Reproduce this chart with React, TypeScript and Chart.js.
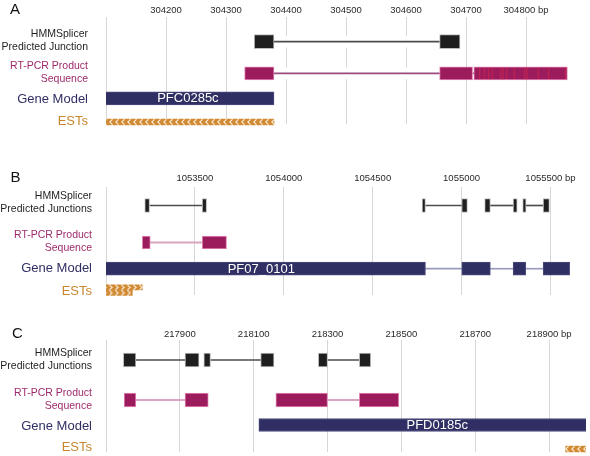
import React, { useEffect, useRef } from "react";
import { Chart, registerables } from "chart.js";

Chart.register(...registerables);

const FONT = "'Liberation Sans', Arial, Helvetica, sans-serif";

type Iv = [number, number];

// ---------------- Panel A data ----------------
const A_TICKS = [304100, 304200, 304300, 304400, 304500, 304600, 304700, 304800];
const A_RANGE: Iv = [304100, 304900];
const A_HMM_EXONS: Iv[] = [[304347, 304380], [304656, 304690]];
const A_HMM_INTRONS: Iv[] = [[304380, 304656]];
const A_RT_EXONS: Iv[] = [[304331, 304380], [304656, 304711], [304713, 304869]];
const A_RT_INTRONS: Iv[] = [[304380, 304656], [304711, 304713]];
const A_RT_MISMATCHES = [304722, 304730, 304737, 304743, 304757, 304761, 304767, 304780, 304797, 304801, 304820, 304837, 304865];
const A_GENE_EXONS: Iv[] = [[304093, 304380]];
const A_GENE_INTRONS: Iv[] = [];
const A_GENE_NAME = "PFC0285c";
const A_ESTS: Iv[] = [[304093, 304380]];

// ---------------- Panel B data ----------------
const B_TICKS = [1053000, 1053500, 1054000, 1054500, 1055000, 1055500];
const B_RANGE: Iv = [1053000, 1055700];
const B_HMM_EXONS: Iv[] = [
  [1053218, 1053245], [1053541, 1053566], [1054778, 1054797], [1055001, 1055033],
  [1055130, 1055162], [1055290, 1055313], [1055344, 1055363], [1055459, 1055494],
];
const B_HMM_INTRONS: Iv[] = [[1053245, 1053541], [1054797, 1055001], [1055162, 1055290], [1055363, 1055459]];
const B_RT_EXONS: Iv[] = [[1053204, 1053249], [1053541, 1053678]];
const B_RT_INTRONS: Iv[] = [[1053249, 1053541]];
const B_RT_MISMATCHES: number[] = [];
const B_GENE_EXONS: Iv[] = [[1052950, 1054797], [1055001, 1055162], [1055290, 1055361], [1055459, 1055608]];
const B_GENE_INTRONS: Iv[] = [[1054797, 1055001], [1055162, 1055290], [1055361, 1055459]];
const B_GENE_NAME = "PF07_0101";
const B_ESTS_1: Iv[] = [[1052990, 1053204]];
const B_ESTS_2: Iv[] = [[1052990, 1053148]];

// ---------------- Panel C data ----------------
const C_TICKS = [217700, 217900, 218100, 218300, 218500, 218700, 218900];
const C_RANGE: Iv = [217700, 219000];
const C_HMM_EXONS: Iv[] = [
  [217747, 217781], [217914, 217952], [217965, 217983], [218119, 218155], [218275, 218300], [218386, 218417],
];
const C_HMM_INTRONS: Iv[] = [[217781, 217914], [217983, 218119], [218300, 218386]];
const C_RT_EXONS: Iv[] = [[217749, 217781], [217914, 217977], [218160, 218300], [218386, 218493]];
const C_RT_INTRONS: Iv[] = [[217781, 217914], [218300, 218386]];
const C_RT_MISMATCHES: number[] = [];
const C_GENE_EXONS: Iv[] = [[218114, 219080]];
const C_GENE_INTRONS: Iv[] = [];
const C_GENE_NAME = "PFD0185c";
const C_ESTS: Iv[] = [[218945, 219060]];

// ---------------- Row labels ----------------
const HMM_LABEL_A = ["HMMSplicer", "Predicted Junction"];
const HMM_LABEL_BC = ["HMMSplicer", "Predicted Junctions"];
const RT_LABEL = ["RT-PCR Product", "Sequence"];
const GENE_LABEL = "Gene Model";
const EST_LABEL = "ESTs";

// ---------------- Styles ----------------
const COL = {
  hmm: "#1f1f1f",
  hmmBorder: "#bdbdbd",
  hmmLine: "#4d4d4d",
  rt: "#9c1b5c",
  rtBorder: "#e58ab8",
  rtLineDark: "#9a4a7d",
  rtLineLight: "#d9a5c3",
  mismatch: "rgba(214, 40, 72, 0.5)",
  gene: "#2f2f63",
  geneBorder: "#4d4d80",
  geneLine: "#9a9abf",
  est: "#d08a34",
  estMark: "#fcebd6",
  grid: "#d6d6d6",
  tick: "#2a2a2a",
  halo: "#ffffff",
};
const LABEL_COLORS = ["#1f1f1f", "#9e2b6b", "#2f2f63", "#c8872f"];

interface Spec {
  letter: string;
  letterLeft: number;
  letterTop: number;
  top: number;
  height: number;
  padBottom: number;
  plotHeight: number;
  tickPad: number;
  labelPad: number;
  range: Iv;
  ticks: number[];
  rowLabels: (string | string[])[];
  labelY: number[];
  rows: { hmm: number; rt: number; gene: number; est: number[] };
  hmmExons: Iv[];
  hmmIntrons: Iv[];
  rtExons: Iv[];
  rtIntrons: Iv[];
  rtLine: string;
  rtLineWidth: number;
  rtThickness: number;
  intronHalo: boolean;
  mismatches: number[];
  geneExons: Iv[];
  geneIntrons: Iv[];
  geneName: string;
  geneNameExon: number;
  estTracks: Iv[][];
  estDir: "left" | "right";
  estThickness: number;
}

const SPECS: Spec[] = [
  {
    letter: "A", letterLeft: 10, letterTop: 1,
    top: 0, height: 130, padBottom: 6, plotHeight: 107, tickPad: 1, labelPad: 18,
    range: A_RANGE, ticks: A_TICKS,
    rowLabels: [HMM_LABEL_A, RT_LABEL, GENE_LABEL, EST_LABEL],
    labelY: [23.5, 55.5, 82, 104.7],
    rows: { hmm: 24.7, rt: 56.3, gene: 81.3, est: [105] },
    hmmExons: A_HMM_EXONS, hmmIntrons: A_HMM_INTRONS,
    rtExons: A_RT_EXONS, rtIntrons: A_RT_INTRONS, rtLine: COL.rtLineDark, rtLineWidth: 1, rtThickness: 13,
    intronHalo: true,
    mismatches: A_RT_MISMATCHES,
    geneExons: A_GENE_EXONS, geneIntrons: A_GENE_INTRONS, geneName: A_GENE_NAME, geneNameExon: 0,
    estTracks: [A_ESTS], estDir: "left", estThickness: 6,
  },
  {
    letter: "B", letterLeft: 10.5, letterTop: 168.5,
    top: 170, height: 131, padBottom: 6, plotHeight: 108, tickPad: 3, labelPad: 14,
    range: B_RANGE, ticks: B_TICKS,
    rowLabels: [HMM_LABEL_BC, RT_LABEL, GENE_LABEL, EST_LABEL],
    labelY: [15.5, 55, 81, 104.7],
    rows: { hmm: 18.5, rt: 55.5, gene: 81.7, est: [100.4, 105.9] },
    hmmExons: B_HMM_EXONS, hmmIntrons: B_HMM_INTRONS,
    rtExons: B_RT_EXONS, rtIntrons: B_RT_INTRONS, rtLine: COL.rtLineLight, rtLineWidth: 1.5, rtThickness: 13,
    intronHalo: false,
    mismatches: B_RT_MISMATCHES,
    geneExons: B_GENE_EXONS, geneIntrons: B_GENE_INTRONS, geneName: B_GENE_NAME, geneNameExon: 0,
    estTracks: [B_ESTS_1, B_ESTS_2], estDir: "right", estThickness: 5,
  },
  {
    letter: "C", letterLeft: 12, letterTop: 324.5,
    top: 323, height: 133, padBottom: 4, plotHeight: 112, tickPad: 0, labelPad: 14,
    range: C_RANGE, ticks: C_TICKS,
    rowLabels: [HMM_LABEL_BC, RT_LABEL, GENE_LABEL, EST_LABEL],
    labelY: [19.5, 60, 86.5, 107.5],
    rows: { hmm: 20, rt: 60, gene: 85, est: [109] },
    hmmExons: C_HMM_EXONS, hmmIntrons: C_HMM_INTRONS,
    rtExons: C_RT_EXONS, rtIntrons: C_RT_INTRONS, rtLine: COL.rtLineLight, rtLineWidth: 1.5, rtThickness: 14,
    intronHalo: false,
    mismatches: C_RT_MISMATCHES,
    geneExons: C_GENE_EXONS, geneIntrons: C_GENE_INTRONS, geneName: C_GENE_NAME, geneNameExon: 0,
    estTracks: [C_ESTS], estDir: "left", estThickness: 6,
  },
];

function makeEstPattern(dir: "left" | "right", h: number): CanvasPattern | string {
  const tile = document.createElement("canvas");
  const w = 6;
  tile.width = w;
  tile.height = h;
  const c = tile.getContext("2d");
  if (!c) return COL.est;
  c.fillStyle = COL.est;
  c.fillRect(0, 0, w, h);
  c.strokeStyle = COL.estMark;
  c.lineWidth = 1.1;
  c.beginPath();
  if (dir === "left") {
    c.moveTo(4.5, 0.3);
    c.lineTo(1.8, h / 2);
    c.lineTo(4.5, h - 0.3);
  } else {
    c.moveTo(1.5, 0.3);
    c.lineTo(4.2, h / 2);
    c.lineTo(1.5, h - 0.3);
  }
  c.stroke();
  const p = c.createPattern(tile, "repeat");
  return p || COL.est;
}

function buildConfig(s: Spec): any {
  const clip = { left: 0, right: 0, top: false, bottom: false };
  const mk = (ivs: Iv[], y: number, extra: any) => ({
    data: ivs.map(([a, b]) => ({ x: [a, b], y })),
    grouped: false,
    borderSkipped: false,
    borderWidth: 0,
    clip,
    ...extra,
  });
  const datasets: any[] = [];
  if (s.intronHalo) {
    datasets.push(mk(s.hmmIntrons, s.rows.hmm, { backgroundColor: COL.halo, barThickness: 11, order: 12 }));
    datasets.push(mk(s.rtIntrons, s.rows.rt, { backgroundColor: COL.halo, barThickness: 11, order: 12 }));
  }
  datasets.push(mk(s.hmmIntrons, s.rows.hmm, { backgroundColor: COL.hmmLine, barThickness: 1, order: 10 }));
  datasets.push(mk(s.rtIntrons, s.rows.rt, { backgroundColor: s.rtLine, barThickness: s.rtLineWidth, order: 10 }));
  if (s.geneIntrons.length)
    datasets.push(mk(s.geneIntrons, s.rows.gene, { backgroundColor: COL.geneLine, barThickness: 1, order: 10 }));
  datasets.push(
    mk(s.hmmExons, s.rows.hmm, { backgroundColor: COL.hmm, borderColor: COL.hmmBorder, borderWidth: 1, barThickness: 14, order: 5 })
  );
  datasets.push(
    mk(s.rtExons, s.rows.rt, { backgroundColor: COL.rt, borderColor: COL.rtBorder, borderWidth: 1, barThickness: s.rtThickness, order: 5 })
  );
  if (s.mismatches.length)
    datasets.push(
      mk(s.mismatches.map((p) => [p, p + 1.4] as Iv), s.rows.rt, { backgroundColor: COL.mismatch, barThickness: s.rtThickness - 2, order: 1 })
    );
  datasets.push(
    mk(s.geneExons, s.rows.gene, { backgroundColor: COL.gene, borderColor: COL.geneBorder, borderWidth: 1, barThickness: 13, order: 5 })
  );
  const patterns = new Map<number, CanvasPattern>();
  s.estTracks.forEach((track, i) => {
    const pat = makeEstPattern(s.estDir, s.estThickness);
    if (typeof pat !== "string") patterns.set(datasets.length, pat);
    datasets.push(mk(track, s.rows.est[i], { backgroundColor: pat, barThickness: s.estThickness, order: 5 }));
  });

  const estPatternPlugin = {
    id: "estPattern",
    beforeDatasetsDraw(chart: any) {
      patterns.forEach((pat, idx) => {
        const el: any = chart.getDatasetMeta(idx).data[0];
        if (!el) return;
        const top = el.y - el.height / 2;
        try {
          pat.setTransform(new DOMMatrix().translate(0, top));
        } catch (e) {
          /* ignore */
        }
      });
    },
  };

  const labelExon = s.geneExons[s.geneNameExon];
  const geneLabelPlugin = {
    id: "geneLabel",
    afterDatasetsDraw(chart: any) {
      const { ctx, chartArea, scales } = chart;
      ctx.save();
      ctx.beginPath();
      ctx.rect(chartArea.left, chartArea.top, chartArea.right - chartArea.left, chartArea.bottom - chartArea.top);
      ctx.clip();
      ctx.fillStyle = "#ffffff";
      ctx.font = `13px ${FONT}`;
      ctx.textAlign = "center";
      ctx.textBaseline = "middle";
      const cx = scales.x.getPixelForValue((labelExon[0] + labelExon[1]) / 2);
      const cy = scales.y.getPixelForValue(s.rows.gene);
      ctx.fillText(s.geneName, cx, cy + 0.5);
      ctx.restore();
    },
  };

  return {
    type: "bar",
    data: { datasets },
    plugins: [estPatternPlugin, geneLabelPlugin],
    options: {
      responsive: false,
      animation: false,
      devicePixelRatio: 1,
      indexAxis: "y",
      events: [],
      layout: { padding: { left: 0, right: 4, top: 0, bottom: s.padBottom } },
      plugins: { legend: { display: false }, tooltip: { enabled: false }, title: { display: false } },
      scales: {
        x: {
          type: "linear",
          position: "top",
          min: s.range[0],
          max: s.range[1],
          afterBuildTicks: (ax: any) => {
            ax.ticks = s.ticks.map((v) => ({ value: v }));
          },
          afterFit: (ax: any) => {
            ax.height = 17;
            ax.paddingLeft = 0;
            ax.paddingRight = 0;
          },
          ticks: {
            autoSkip: false,
            maxRotation: 0,
            minRotation: 0,
            padding: s.tickPad,
            color: COL.tick,
            font: { family: FONT, size: 9.5 },
            callback: (v: any, i: number, arr: any[]) =>
              i === 0 ? "" : i === arr.length - 1 ? `${v} bp` : `${v}`,
          },
          grid: { color: COL.grid, drawTicks: false, lineWidth: 1 },
          border: { display: false },
        },
        y: {
          type: "linear",
          reverse: true,
          offset: false,
          min: 0,
          max: s.plotHeight,
          afterBuildTicks: (ax: any) => {
            ax.ticks = s.labelY.map((v) => ({ value: v }));
          },
          afterFit: (ax: any) => {
            ax.width = 106;
            ax.paddingTop = 0;
            ax.paddingBottom = 0;
          },
          ticks: {
            autoSkip: false,
            padding: s.labelPad,
            callback: (_v: any, i: number) => s.rowLabels[i],
            color: (c: any) => LABEL_COLORS[c.index] || "#222",
            font: (c: any) => ({ family: FONT, size: c.index >= 2 ? 13 : 10.5, lineHeight: 1.25 }),
          },
          grid: { display: false, drawTicks: false },
          border: { display: false },
        },
      },
    },
  };
}

function Panel({ spec }: { spec: Spec }) {
  const ref = useRef<HTMLCanvasElement | null>(null);
  useEffect(() => {
    if (!ref.current) return;
    const chart = new Chart(ref.current, buildConfig(spec));
    return () => chart.destroy();
  }, [spec]);
  return (
    <div style={{ position: "absolute", left: 0, top: spec.top, width: 590, height: spec.height }}>
      <canvas
        ref={ref}
        width={590}
        height={spec.height}
        style={{ display: "block", width: 590, height: spec.height }}
      />
    </div>
  );
}

export default function App() {
  return (
    <div
      style={{
        position: "absolute",
        left: 0,
        top: 0,
        width: 590,
        height: 456,
        background: "#ffffff",
        overflow: "hidden",
      }}
    >
      {SPECS.map((s) => (
        <Panel key={s.letter} spec={s} />
      ))}
      {SPECS.map((s) => (
        <div
          key={"l" + s.letter}
          style={{
            position: "absolute",
            left: s.letterLeft,
            top: s.letterTop,
            font: `15px ${FONT}`,
            lineHeight: "16px",
            color: "#111111",
          }}
        >
          {s.letter}
        </div>
      ))}
    </div>
  );
}
